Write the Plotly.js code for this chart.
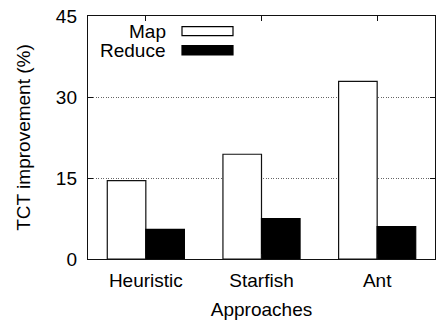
<!DOCTYPE html>
<html>
<head>
<meta charset="utf-8">
<script src="https://cdn.plot.ly/plotly-3.0.1.min.js"></script>
<style>html,body{margin:0;padding:0;background:#fff;}#chart{width:436px;height:320px;}</style>
</head>
<body>
<div id="chart"></div>
<script>
const categories = ["Heuristic", "Starfish", "Ant"];
const seriesNames = ["Map", "Reduce"];
const mapValues = [14.5, 19.4, 32.9];
const reduceValues = [5.5, 7.5, 6.0];
const yTickValues = [0, 15, 30, 45];

const FONT = "Liberation Sans, Arial, Helvetica, sans-serif";
const FS = 19;

const traces = [
  {type: "bar", name: seriesNames[0], x: categories, y: mapValues,
   marker: {color: "#ffffff", line: {color: "#111", width: 1.2}}},
  {type: "bar", name: seriesNames[1], x: categories, y: reduceValues,
   marker: {color: "#000000", line: {color: "#000000", width: 1.2}}}
];

const L = 88, R = 435, T = 16, B = 259;
const px = v => (v - L) / (R - L);
const py = v => (B - v) / (B - T);

const layout = {
  width: 436, height: 320,
  margin: {l: L, r: 436 - R, t: T, b: 320 - B},
  paper_bgcolor: "#fff", plot_bgcolor: "#fff",
  font: {family: FONT, size: FS, color: "#000"},
  showlegend: false,
  barmode: "group", bargap: 1/3, bargroupgap: 0,
  xaxis: {
    type: "category", range: [-0.5, 2.5],
    showline: true, linecolor: "#111", linewidth: 1.2, mirror: "ticks",
    ticks: "inside", ticklen: 5, tickcolor: "#111", tickwidth: 1,
    showgrid: false, zeroline: false, ticklabelstandoff: 4,
    tickfont: {family: FONT, size: FS, color: "#000"},
    title: {text: "Approaches", font: {family: FONT, size: FS, color: "#000"}, standoff: 14}
  },
  yaxis: {
    range: [0, 45], tickvals: yTickValues, ticktext: yTickValues.map(String),
    showline: true, linecolor: "#111", linewidth: 1.2, mirror: "ticks",
    ticks: "inside", ticklen: 5, tickcolor: "#111", tickwidth: 1,
    showgrid: true, gridcolor: "#666", gridwidth: 1, griddash: "1px,1.5px",
    zeroline: false, ticklabelstandoff: 6,
    tickfont: {family: FONT, size: FS, color: "#000"},
    title: {text: "TCT improvement (%)", font: {family: FONT, size: FS, color: "#000"}, standoff: 20}
  },
  shapes: [
    {type: "rect", xref: "paper", yref: "paper", x0: px(182), x1: px(233), y0: py(35.7), y1: py(26.7),
     fillcolor: "#fff", line: {color: "#000", width: 1.2}},
    {type: "rect", xref: "paper", yref: "paper", x0: px(182), x1: px(233), y0: py(55), y1: py(45.7),
     fillcolor: "#000", line: {color: "#000", width: 1.2}}
  ],
  annotations: [
    {xref: "paper", yref: "paper", x: px(168), y: py(31.2), xanchor: "right", yanchor: "middle",
     text: seriesNames[0], showarrow: false, font: {family: FONT, size: FS, color: "#000"}},
    {xref: "paper", yref: "paper", x: px(168), y: py(50.3), xanchor: "right", yanchor: "middle",
     text: seriesNames[1], showarrow: false, font: {family: FONT, size: FS, color: "#000"}}
  ]
};

Plotly.newPlot("chart", traces, layout, {staticPlot: true, displayModeBar: false});
</script>
</body>
</html>
